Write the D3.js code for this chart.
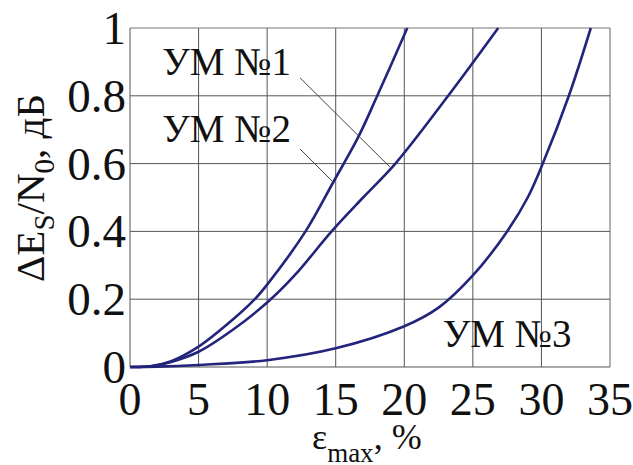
<html>
<head>
<meta charset="utf8">
<script src="https://cdn.jsdelivr.net/npm/d3@7"></script>
</head>
<body style="margin:0">
<div id="canvas"></div>
<script>
// данные
const xTicks = [0, 5, 10, 15, 20, 25, 30, 35];
const yTicks = [0, 0.2, 0.4, 0.6, 0.8, 1];
const yTickLabels = ["0", "0.2", "0.4", "0.6", "0.8", "1"];

// УМ №1 (пологая)
const um1X = [0, 1.5, 3, 5, 7.5, 10, 12, 14.7, 17, 19.35, 23.2, 26.85];
const um1Y = [0, 0.002, 0.015, 0.045, 0.11, 0.19, 0.27, 0.4, 0.5, 0.6, 0.8, 1.0];
// УМ №2 (крутая)
const um2X = [0, 1.5, 3, 5, 7.5, 9.1, 10, 12.8, 14.82, 16.64, 18.03, 20.22];
const um2Y = [0, 0.002, 0.017, 0.06, 0.14, 0.2, 0.243, 0.4, 0.545, 0.678, 0.8, 1.0];
// УМ №3
const um3X = [0, 2, 5, 10, 15, 20, 22.5, 25, 27.5, 29, 30.1, 32, 33.6];
const um3Y = [0, 0.001, 0.006, 0.02, 0.055, 0.12, 0.175, 0.27, 0.4, 0.5, 0.6, 0.8, 1.0];

const labelNames = ["УМ №1", "УМ №2", "УМ №3"];
const labelX = [2.35, 2.35, 22.8];
const labelY = [0.86, 0.665, 0.059];
// выноски: [x1, y1, x2, y2]
const leaders = [
    [12.4, 0.853, 19.0, 0.588],
    [12.4, 0.643, 14.82, 0.545]
];

const W = 633, H = 465;
const FONT = '"Liberation Serif", "Tinos", "Times New Roman", serif';
const svg = d3.select("#canvas").append("svg")
    .attr("width", W)
    .attr("height", H)
    .style("font-family", FONT);

const xScale = d3.scaleLinear().domain([0, 35]).range([130, 610]);
const yScale = d3.scaleLinear().domain([0, 1]).range([367, 28]);

// сетка
svg.append("g").selectAll("line").data(xTicks).join("line")
    .attr("x1", d => xScale(d)).attr("x2", d => xScale(d))
    .attr("y1", yScale(0)).attr("y2", yScale(1))
    .attr("stroke", d => d === 35 ? "#999" : "#555")
    .attr("stroke-width", d => d === 35 ? 1.5 : 1);
svg.append("g").selectAll("line").data(yTicks).join("line")
    .attr("x1", xScale(0)).attr("x2", xScale(35))
    .attr("y1", d => yScale(d)).attr("y2", d => yScale(d))
    .attr("stroke", d => d === 1 ? "#777" : "#555")
    .attr("stroke-width", 1);

// подписи делений
svg.append("g").selectAll("text").data(xTicks).join("text")
    .attr("x", d => xScale(d))
    .attr("y", 415)
    .attr("text-anchor", "middle")
    .style("font-family", FONT)
    .style("font-size", "46px")
    .attr("fill", "#111")
    .text(d => d);
svg.append("g").selectAll("text").data(yTicks).join("text")
    .attr("x", 126)
    .attr("y", d => yScale(d) + 16)
    .attr("text-anchor", "end")
    .style("font-family", FONT)
    .style("font-size", "47px")
    .attr("fill", "#111")
    .text((d, i) => yTickLabels[i]);

// кривые
const line = d3.line()
    .x(d => xScale(d[0]))
    .y(d => yScale(d[1]))
    .curve(d3.curveCatmullRom.alpha(0.5));
const series = [[um1X, um1Y], [um2X, um2Y], [um3X, um3Y]];
series.forEach(s => {
    svg.append("path")
        .datum(s[0].map((x, i) => [x, s[1][i]]))
        .attr("fill", "none")
        .attr("stroke", "#23247c")
        .attr("stroke-width", 2.6)
        .attr("d", line);
});

// выноски
svg.append("g").selectAll("line").data(leaders).join("line")
    .attr("x1", d => xScale(d[0])).attr("y1", d => yScale(d[1]))
    .attr("x2", d => xScale(d[2])).attr("y2", d => yScale(d[3]))
    .attr("stroke", "#444")
    .attr("stroke-width", 1);

svg.append("g").selectAll("text").data(labelNames).join("text")
    .attr("x", (d, i) => xScale(labelX[i]))
    .attr("y", (d, i) => yScale(labelY[i]))
    .style("font-family", FONT)
    .style("font-size", "39px")
    .attr("fill", "#111")
    .text(d => d);

// подпись оси X
const xl = svg.append("text")
    .attr("x", 312)
    .attr("y", 449)
    .style("font-family", FONT)
    .style("font-size", "36px")
    .attr("fill", "#111");
xl.append("tspan").text("ε");
xl.append("tspan").style("font-size", "27px").attr("dy", 13).text("max");
xl.append("tspan").attr("dy", -13).text(", %");

// подпись оси Y
const yl = svg.append("text")
    .attr("transform", "translate(44,282) rotate(-90)")
    .style("font-family", FONT)
    .style("font-size", "41px")
    .attr("fill", "#111");
yl.append("tspan").text("ΔE");
yl.append("tspan").style("font-size", "29px").attr("dy", 10).text("S");
yl.append("tspan").attr("dy", -10).text("/N");
yl.append("tspan").style("font-size", "29px").attr("dy", 10).text("0");
yl.append("tspan").attr("dy", -10).text(", дБ");
</script>
</body>
</html>
